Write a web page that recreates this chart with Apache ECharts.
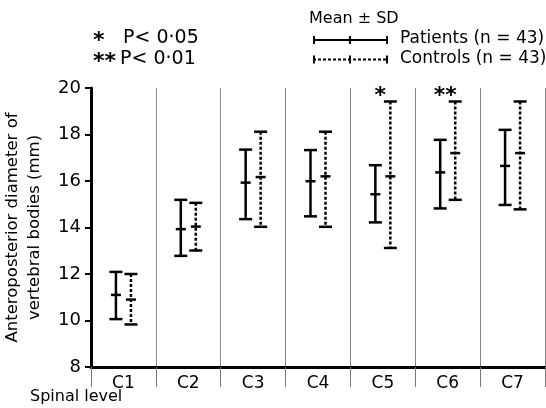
<!DOCTYPE html>
<html>
<head>
<meta charset="utf-8">
<script src="https://cdn.jsdelivr.net/npm/echarts@6/dist/echarts.min.js"></script>
<style>
  html, body { margin: 0; padding: 0; background: #fff; }
  #chart { width: 546px; height: 408px; }
</style>
</head>
<body>
<div id="chart"></div>
<script>
const categories = ['C1', 'C2', 'C3', 'C4', 'C5', 'C6', 'C7'];
const yTicks = [8, 10, 12, 14, 16, 18, 20];

// patients: mean - SD, mean, mean + SD
const patientLow = [10.06, 12.78, 14.36, 14.48, 14.22, 14.82, 14.97];
const patientMean = [11.1, 13.93, 15.93, 15.99, 15.43, 16.37, 16.65];
const patientHigh = [12.09, 15.19, 17.35, 17.33, 16.68, 17.77, 18.2];

// controls
const controlLow = [9.83, 13.01, 14.03, 14.03, 13.12, 15.19, 14.78];
const controlMean = [10.9, 14.04, 16.17, 16.2, 16.2, 17.2, 17.2];
const controlHigh = [12.0, 15.06, 18.12, 18.12, 19.42, 19.42, 19.42];

const significance = ['', '', '', '', '*', '**', ''];

const FONT = 'DejaVu Sans';

function errorBars(dashed, offset, marks) {
  return function (params, api) {
    const i = api.value(0);
    const x = api.coord([i, 0])[0] + offset;
    const yLow = api.coord([i, api.value(1)])[1];
    const yMean = api.coord([i, api.value(2)])[1];
    const yHigh = api.coord([i, api.value(3)])[1];
    const solid = { stroke: '#000', lineWidth: 2.5 };
    const stem = dashed ? { stroke: '#000', lineWidth: 2.5, lineDash: [3, 2] } : solid;
    const children = [
      { type: 'line', shape: { x1: x, y1: yHigh, x2: x, y2: yLow }, style: stem },
      { type: 'line', shape: { x1: x - 6.5, y1: yHigh, x2: x + 6.5, y2: yHigh }, style: solid },
      { type: 'line', shape: { x1: x - 6.5, y1: yLow, x2: x + 6.5, y2: yLow }, style: solid },
      { type: 'line', shape: { x1: x - 5, y1: yMean, x2: x + 5, y2: yMean }, style: solid }
    ];
    if (marks && marks[params.dataIndex]) {
      children.push({
        type: 'text',
        style: {
          text: marks[params.dataIndex], x: x - 10, y: yHigh - 5,
          align: 'center', verticalAlign: 'middle',
          font: 'bold 22px ' + FONT, fill: '#000'
        }
      });
    }
    return { type: 'group', children: children };
  };
}

function rows(low, mean, high) {
  return categories.map((c, i) => [i, low[i], mean[i], high[i]]);
}

// little "mean ± SD" sample bar for the key
function keyBar(y, dashed) {
  const cap = { stroke: '#000', lineWidth: 2 };
  return [
    { type: 'line', shape: { x1: 313, y1: y, x2: 388, y2: y }, style: dashed ? { stroke: '#000', lineWidth: 2, lineDash: [3, 2] } : cap },
    { type: 'line', shape: { x1: 314, y1: y - 4, x2: 314, y2: y + 4 }, style: cap },
    { type: 'line', shape: { x1: 350, y1: y - 4, x2: 350, y2: y + 4 }, style: cap },
    { type: 'line', shape: { x1: 387, y1: y - 4, x2: 387, y2: y + 4 }, style: cap }
  ];
}

const chart = echarts.init(document.getElementById('chart'));

const keyFont = '17px ' + FONT;
const pFont = '19px ' + FONT;
const starFont = 'bold 22px ' + FONT;

chart.setOption({
  animation: false,
  grid: { left: 91, right: 1, top: 88, bottom: 41, outerBoundsMode: 'none', containLabel: false },
  xAxis: {
    type: 'category',
    data: categories,
    axisLine: { lineStyle: { color: '#000', width: 3 } },
    axisTick: { show: true, length: 20, lineStyle: { color: '#777', width: 1 } },
    axisLabel: { color: '#000', fontFamily: FONT, fontSize: 17, margin: 8 },
    splitLine: { show: true, lineStyle: { color: '#888', width: 1 } }
  },
  yAxis: {
    type: 'value',
    min: 8,
    max: 20,
    interval: 2,
    name: 'Anteroposterior diameter of\nvertebral bodies (mm)',
    nameLocation: 'middle',
    nameRotate: 90,
    nameGap: 45,
    nameTextStyle: { color: '#000', fontFamily: FONT, fontSize: 16.5, lineHeight: 22 },
    axisLine: { show: true, lineStyle: { color: '#000', width: 3 } },
    axisTick: { show: true, length: 6, lineStyle: { color: '#000', width: 2 } },
    axisLabel: {
      color: '#000', fontFamily: FONT, fontSize: 18, margin: 10,
      formatter: v => (yTicks.indexOf(v) >= 0 ? String(v) : '')
    },
    splitLine: { show: false }
  },
  series: [
    {
      name: 'Patients (n=43)',
      type: 'custom',
      renderItem: errorBars(false, -7.5, null),
      encode: { x: 0, y: [1, 2, 3] },
      data: rows(patientLow, patientMean, patientHigh)
    },
    {
      name: 'Controls (n=43)',
      type: 'custom',
      renderItem: errorBars(true, 7.5, significance),
      encode: { x: 0, y: [1, 2, 3] },
      data: rows(controlLow, controlMean, controlHigh)
    }
  ],
  graphic: [
    // significance key
    { type: 'text', left: 93, top: 30, style: { text: '*', fill: '#000', font: starFont } },
    { type: 'text', left: 123, top: 29, style: { text: 'P< 0·05', fill: '#000', font: pFont } },
    { type: 'text', left: 93, top: 51, style: { text: '**', fill: '#000', font: starFont } },
    { type: 'text', left: 120, top: 50, style: { text: 'P< 0·01', fill: '#000', font: pFont } },
    // series key
    { type: 'text', left: 309, top: 11, style: { text: 'Mean ± SD', fill: '#000', font: '16px ' + FONT } },
    ...keyBar(40, false),
    { type: 'text', left: 400, top: 30, style: { text: 'Patients (n = 43)', fill: '#000', font: keyFont } },
    ...keyBar(59.5, true),
    { type: 'text', left: 400, top: 50, style: { text: 'Controls (n = 43)', fill: '#000', font: keyFont } },
    // x axis title
    { type: 'text', left: 30, top: 389, style: { text: 'Spinal level', fill: '#000', font: '16px ' + FONT } }
  ]
});
</script>
</body>
</html>
